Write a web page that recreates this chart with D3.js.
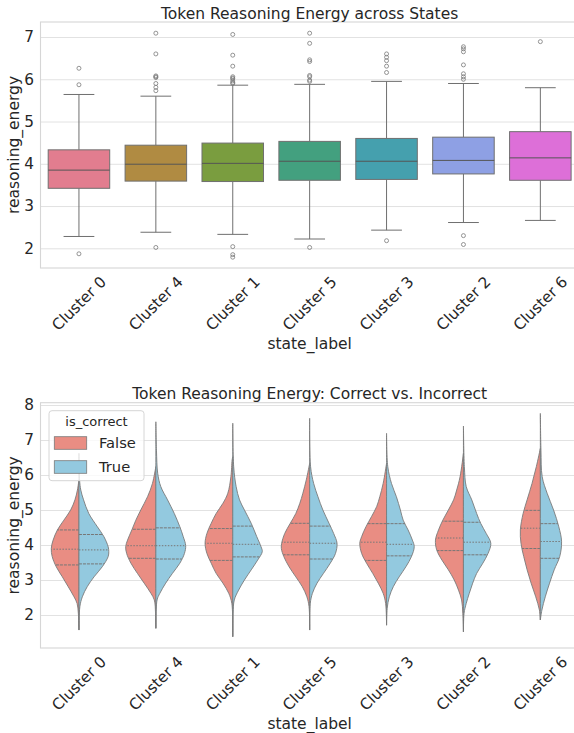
<!DOCTYPE html>
<html>
<head>
<meta charset="utf-8">
<script src="https://cdn.jsdelivr.net/npm/d3@7"></script>
<style>
body { margin: 0; background: #fff; }
text { font-family: "DejaVu Sans", sans-serif; fill: #262626; }
</style>
</head>
<body>
<div id="chart"></div>
<script>
// ---- data ----
var states = ["Cluster 0", "Cluster 4", "Cluster 1", "Cluster 5", "Cluster 3", "Cluster 2", "Cluster 6"]

// box plot stats
var q1 = [3.42, 3.59, 3.58, 3.61, 3.63, 3.76, 3.61]
var medians = [3.85, 3.99, 4.01, 4.06, 4.06, 4.08, 4.14]
var q3 = [4.33, 4.44, 4.49, 4.53, 4.60, 4.63, 4.76]
var whiskLo = [2.28, 2.38, 2.33, 2.22, 2.43, 2.61, 2.66]
var whiskHi = [5.64, 5.60, 5.86, 5.88, 5.95, 5.90, 5.80]
var fliers = [
	[6.26, 5.87, 1.87],
	[7.09, 6.60, 6.08, 6.06, 6.04, 5.90, 5.81, 5.73, 2.02],
	[7.06, 6.57, 6.31, 6.06, 6.03, 6.01, 5.96, 5.92, 5.90, 2.04, 1.85, 1.79],
	[7.09, 6.85, 6.46, 6.42, 6.09, 6.06, 5.98, 5.95, 2.02],
	[6.60, 6.52, 6.44, 6.31, 6.16, 2.18],
	[6.77, 6.72, 6.65, 6.34, 6.13, 6.06, 6.00, 2.30, 2.09],
	[6.89]
]

// violin halves: [value, relative density]
var violinFalse = [
	[[5.86, 0], [5.57, .05], [5.29, .13], [5.00, .27], [4.71, .49], [4.43, .70], [4.14, .84], [3.90, .90], [3.67, .87], [3.38, .74], [3.09, .54], [2.81, .35], [2.52, .16], [2.33, .06], [2.05, .02], [1.57, 0]],
	[[6.24, 0], [5.76, .11], [5.38, .27], [5.00, .49], [4.71, .65], [4.43, .78], [4.14, .92], [3.95, .98], [3.76, .95], [3.48, .81], [3.19, .60], [2.91, .38], [2.62, .16], [2.43, .05], [2.05, .01], [1.62, 0]],
	[[6.52, 0], [6.43, .02], [5.95, .06], [5.48, .16], [5.19, .32], [4.90, .54], [4.62, .70], [4.33, .84], [4.05, .90], [3.76, .84], [3.48, .70], [3.19, .54], [2.91, .32], [2.62, .13], [2.33, .03], [1.38, 0]],
	[[6.33, 0], [5.86, .11], [5.48, .22], [5.19, .32], [4.90, .45], [4.62, .63], [4.33, .81], [4.05, .91], [3.90, .92], [3.67, .84], [3.38, .67], [3.09, .45], [2.81, .24], [2.52, .09], [2.24, .02], [1.57, 0]],
	[[6.33, 0], [5.76, .11], [5.38, .22], [5.10, .32], [4.81, .49], [4.52, .67], [4.24, .81], [4.05, .87], [3.76, .81], [3.48, .65], [3.19, .45], [2.91, .27], [2.62, .11], [2.33, .03], [1.71, 0]],
	[[6.62, 0], [5.95, .11], [5.57, .22], [5.29, .32], [5.00, .49], [4.71, .67], [4.43, .81], [4.14, .91], [3.86, .87], [3.57, .70], [3.29, .49], [3.00, .30], [2.71, .16], [2.43, .06], [2.05, .02], [1.52, 0]],
	[[6.76, 0], [6.24, .13], [5.76, .27], [5.29, .43], [4.90, .56], [4.43, .65], [4.05, .63], [3.67, .54], [3.29, .43], [2.91, .30], [2.52, .15], [2.14, .03], [1.86, 0]]
]
var violinTrue = [
	[[6.62, 0], [5.86, .02], [5.57, .06], [5.29, .15], [4.90, .32], [4.52, .60], [4.24, .81], [3.95, .95], [3.81, .97], [3.67, .95], [3.38, .76], [3.09, .49], [2.81, .27], [2.52, .11], [2.24, .03], [1.57, 0]],
	[[7.52, 0], [6.71, .02], [6.05, .06], [5.67, .16], [5.29, .38], [4.90, .60], [4.52, .78], [4.24, .89], [3.98, .97], [3.76, .93], [3.48, .78], [3.19, .54], [2.91, .32], [2.62, .13], [2.43, .04], [1.62, 0]],
	[[7.48, 0], [6.24, .03], [5.67, .11], [5.29, .22], [5.00, .38], [4.62, .60], [4.24, .78], [3.95, .92], [3.81, .96], [3.57, .81], [3.29, .60], [3.00, .38], [2.71, .19], [2.43, .05], [2.05, .01], [1.38, 0]],
	[[7.62, 0], [6.24, .03], [5.76, .13], [5.38, .27], [5.00, .43], [4.62, .63], [4.33, .78], [4.05, .89], [3.76, .84], [3.48, .67], [3.19, .45], [2.91, .24], [2.62, .09], [2.33, .02], [1.57, 0]],
	[[7.19, 0], [6.24, .04], [5.76, .16], [5.38, .32], [5.00, .45], [4.71, .54], [4.43, .70], [4.14, .84], [3.95, .90], [3.67, .81], [3.38, .63], [3.09, .41], [2.81, .22], [2.52, .09], [2.19, .02], [1.71, 0]],
	[[7.40, 0], [6.24, .03], [5.67, .09], [5.29, .27], [4.90, .43], [4.62, .56], [4.33, .74], [4.05, .89], [3.76, .80], [3.48, .63], [3.19, .43], [2.91, .30], [2.62, .19], [2.33, .09], [2.05, .02], [1.52, 0]],
	[[7.76, 0], [6.71, .02], [5.95, .06], [5.48, .22], [5.00, .43], [4.52, .60], [4.10, .69], [3.67, .63], [3.29, .45], [2.91, .30], [2.52, .16], [2.14, .05], [1.86, 0]]
]
// [q3, median, q1] per half
var quartFalse = [[4.43, 3.88, 3.43], [4.45, 3.98, 3.62], [4.47, 4.05, 3.56], [4.62, 4.08, 3.72], [4.61, 4.08, 3.56], [4.68, 4.20, 3.84], [4.99, 4.48, 3.90]]
var quartTrue = [[4.30, 3.86, 3.46], [4.49, 3.98, 3.60], [4.54, 4.02, 3.66], [4.54, 4.05, 3.60], [4.61, 4.02, 3.69], [4.65, 4.08, 3.72], [4.61, 4.10, 3.62]]

var ticksTop = [2, 3, 4, 5, 6, 7]
var ticksBottom = [2, 3, 4, 5, 6, 7, 8]
var hueLabels = ["False", "True"]

// ---- layout / style ----
var width = 574
var height = 733
var left = 40.5
var right = 578.8
var tickFont = 15.3
var labelFont = 15.5
var boxColors = ["#e27d8f", "#b08b42", "#7a9d3f", "#43a07f", "#45a0ae", "#8ea0e4", "#dd6fd8"]
var hueColors = ["#e98d83", "#93c9df"]
var lineGray = "#6f6f6f"

var svg = d3.select("#chart")
	.append("svg")
	.attr("width", width)
	.attr("height", height)

var x = d3.scaleBand().domain(states).range([left, right])
var cx = function (s) { return x(s) + x.bandwidth() / 2 }

var yTop = d3.scaleLinear().domain([1.534, 7.355]).range([268, 22])
var yBot = d3.scaleLinear().domain([1.057, 8.066]).range([648, 402.7])

function panel(y, ticks, title, titleY) {
	var top = y.range()[1], bottom = y.range()[0]

	// grid
	svg.append("g")
		.attr("transform", "translate(" + left + ",0)")
		.call(d3.axisLeft(y).tickValues(ticks).tickSize(-(right - left)).tickFormat(""))
		.call(function (g) { g.select(".domain").remove() })
		.selectAll("line").attr("stroke", "#e2e2e2").attr("stroke-width", 1)

	// frame
	svg.append("rect")
		.attr("x", left).attr("y", top)
		.attr("width", right - left).attr("height", bottom - top)
		.attr("fill", "none").attr("stroke", "#d6d6d6").attr("stroke-width", 1.1)

	// y ticks
	svg.append("g")
		.attr("transform", "translate(" + left + ",0)")
		.call(d3.axisLeft(y).tickValues(ticks).tickSize(0).tickPadding(6.5).tickFormat(d3.format("d")))
		.call(function (g) { g.select(".domain").remove() })
		.selectAll("text").style("font-size", tickFont + "px").attr("fill", "#262626")

	// x ticks, rotated 45 (bbox centred on the tick)
	var xa = svg.append("g")
		.attr("transform", "translate(0," + bottom + ")")
		.call(d3.axisBottom(x).tickSize(0))
	xa.select(".domain").remove()
	xa.selectAll("text")
		.style("font-size", tickFont + "px")
		.attr("fill", "#262626")
		.attr("y", null).attr("dy", null)
		.attr("text-anchor", "end")
		.each(function () {
			var L = this.getComputedTextLength()
			var dx = 0.3535 * (L + 0.692 * tickFont)
			var dy = 4.8 + 0.656 * tickFont
			d3.select(this).attr("transform", "translate(" + dx + "," + dy + ") rotate(-45)")
		})

	// title
	svg.append("text")
		.attr("x", (left + right) / 2).attr("y", titleY)
		.attr("text-anchor", "middle")
		.style("font-size", labelFont + "px")
		.text(title)

	// axis labels
	svg.append("text")
		.attr("x", (left + right) / 2).attr("y", bottom + 80.5)
		.attr("text-anchor", "middle")
		.style("font-size", labelFont + "px")
		.text("state_label")

	svg.append("text")
		.attr("transform", "translate(19," + (top + bottom) / 2 + ") rotate(-90)")
		.attr("text-anchor", "middle")
		.style("font-size", labelFont + "px")
		.text("reasoning_energy")
}

// ---- top: box plots ----
panel(yTop, ticksTop, "Token Reasoning Energy across States", 18.5)

var bw = x.bandwidth() * 0.8
var boxes = svg.append("g")

states.forEach(function (s, i) {
	var c = cx(s)
	var g = boxes.append("g")
	// whiskers
	g.append("line").attr("x1", c).attr("x2", c).attr("y1", yTop(q3[i])).attr("y2", yTop(whiskHi[i]))
	g.append("line").attr("x1", c).attr("x2", c).attr("y1", yTop(q1[i])).attr("y2", yTop(whiskLo[i]))
	g.append("line").attr("x1", c - bw / 4).attr("x2", c + bw / 4).attr("y1", yTop(whiskHi[i])).attr("y2", yTop(whiskHi[i]))
	g.append("line").attr("x1", c - bw / 4).attr("x2", c + bw / 4).attr("y1", yTop(whiskLo[i])).attr("y2", yTop(whiskLo[i]))
	g.selectAll("line").attr("stroke", lineGray).attr("stroke-width", 1)
	// box
	g.append("rect")
		.attr("x", c - bw / 2).attr("width", bw)
		.attr("y", yTop(q3[i])).attr("height", yTop(q1[i]) - yTop(q3[i]))
		.attr("fill", boxColors[i])
		.attr("stroke", lineGray).attr("stroke-width", 1)
	// median
	g.append("line")
		.attr("x1", c - bw / 2).attr("x2", c + bw / 2)
		.attr("y1", yTop(medians[i])).attr("y2", yTop(medians[i]))
		.attr("stroke", "#555").attr("stroke-width", 1)
	// outliers
	g.selectAll("circle").data(fliers[i]).enter().append("circle")
		.attr("cx", c).attr("cy", function (d) { return yTop(d) })
		.attr("r", 2)
		.attr("fill", "none").attr("stroke", "#7a7a7a").attr("stroke-width", 0.8)
})

// ---- bottom: split violins ----
panel(yBot, ticksBottom, "Token Reasoning Energy: Correct vs. Incorrect", 399)

var dens = d3.scaleLinear().domain([0, 1]).range([0, x.bandwidth() * 0.4])

function widthAt(pts, v) {
	for (var k = 0; k < pts.length - 1; k++) {
		var a = pts[k], b = pts[k + 1]
		if (v <= a[0] && v >= b[0]) {
			var t = (a[0] - v) / (a[0] - b[0])
			return dens(a[1] + t * (b[1] - a[1]))
		}
	}
	return 0
}

var violins = svg.append("g")
states.forEach(function (s, i) {
	var c = cx(s)
	var halves = [[violinFalse[i], quartFalse[i], -1], [violinTrue[i], quartTrue[i], 1]]
	halves.forEach(function (h, j) {
		var pts = h[0], side = h[2]
		var area = d3.area()
			.y(function (d) { return yBot(d[0]) })
			.x0(c)
			.x1(function (d) { return c + side * dens(d[1]) })
			.curve(d3.curveCatmullRom)
		violins.append("path")
			.attr("d", area(pts))
			.attr("fill", hueColors[j])
			.attr("stroke", "#7a7a7a").attr("stroke-width", 0.9)
		h[1].forEach(function (q, k) {
			violins.append("line")
				.attr("x1", c).attr("x2", c + side * widthAt(pts, q))
				.attr("y1", yBot(q)).attr("y2", yBot(q))
				.attr("stroke", "#777").attr("stroke-width", 1)
				.attr("stroke-dasharray", k == 1 ? "1.5,1.5" : "3,1")
		})
	})
})

// legend
var lg = svg.append("g").attr("transform", "translate(49,410.7)")
lg.append("rect")
	.attr("width", 95).attr("height", 70).attr("rx", 3)
	.attr("fill", "white").attr("fill-opacity", 0.8)
	.attr("stroke", "#d6d6d6")
lg.append("text")
	.attr("x", 47.5).attr("y", 15).attr("text-anchor", "middle")
	.style("font-size", "13px").text("is_correct")
hueLabels.forEach(function (t, j) {
	lg.append("rect")
		.attr("x", 5.3).attr("y", 26 + j * 24).attr("width", 32.4).attr("height", 12.6)
		.attr("fill", hueColors[j]).attr("stroke", "#7a7a7a").attr("stroke-width", 0.8)
	lg.append("text")
		.attr("x", 50).attr("y", 37.6 + j * 23.4)
		.style("font-size", "14.7px").text(t)
})
</script>
</body>
</html>
